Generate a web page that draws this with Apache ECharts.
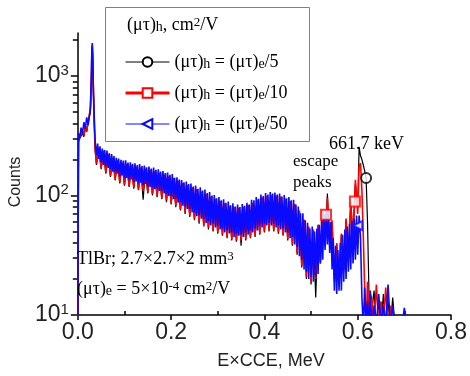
<!DOCTYPE html>
<html><head><meta charset="utf-8">
<script src="https://cdn.jsdelivr.net/npm/echarts@6/dist/echarts.min.js"></script>
<style>html,body{margin:0;padding:0;background:#fff}#c{width:470px;height:376px}</style>
</head><body><div id="c"></div>
<script>
// Energy grid (MeV) for the black and red spectra
const energy = [
  0.000, 0.0015, 0.004, 0.007, 0.010, 0.013, 0.016, 0.019, 0.022, 0.025,
  0.027, 0.029, 0.030, 0.031, 0.032, 0.033, 0.035, 0.037, 0.040,
  0.045, 0.050, 0.055, 0.060, 0.065, 0.070, 0.075, 0.080, 0.085, 0.090,
  0.095, 0.100, 0.105, 0.110, 0.115, 0.120, 0.125, 0.130, 0.135, 0.140,
  0.145, 0.150, 0.155, 0.160, 0.165, 0.170, 0.175, 0.180, 0.185, 0.190,
  0.195, 0.200, 0.205, 0.210, 0.215, 0.220, 0.225, 0.230, 0.235, 0.240,
  0.245, 0.250, 0.255, 0.260, 0.265, 0.270, 0.275, 0.280, 0.285, 0.290,
  0.295, 0.300, 0.305, 0.310, 0.315, 0.320, 0.325, 0.330, 0.335, 0.340,
  0.345, 0.350, 0.355, 0.360, 0.365, 0.370, 0.375, 0.380, 0.385, 0.390,
  0.395, 0.400, 0.405, 0.410, 0.415, 0.420, 0.425, 0.430, 0.435, 0.440,
  0.445, 0.450, 0.455, 0.460, 0.465, 0.470, 0.475, 0.480, 0.485, 0.490,
  0.495, 0.500, 0.505, 0.510, 0.515, 0.520, 0.525, 0.530, 0.535, 0.540,
  0.545, 0.550, 0.555, 0.560, 0.565, 0.570, 0.575, 0.580, 0.585, 0.590,
  0.595, 0.600,
  0.603, 0.606, 0.609, 0.612, 0.615, 0.618, 0.621, 0.624, 0.627,
  0.630, 0.635, 0.640, 0.645, 0.650, 0.655, 0.660, 0.665, 0.670, 0.675,
  0.680, 0.685, 0.690, 0.695, 0.700, 0.705
];
// Finer energy grid (MeV) for the blue spectrum
const energyFine = [
  0.000, 0.0015, 0.004, 0.007, 0.010, 0.013, 0.016, 0.019, 0.022, 0.025,
  0.027, 0.029, 0.030, 0.031, 0.032, 0.033, 0.035, 0.037, 0.040,
  0.0425, 0.0450, 0.0475, 0.0500, 0.0525, 0.0550, 0.0575, 0.0600,
  0.0625, 0.0650, 0.0675, 0.0700, 0.0725, 0.0750, 0.0775, 0.0800,
  0.0825, 0.0850, 0.0875, 0.0900, 0.0925, 0.0950, 0.0975, 0.1000,
  0.1025, 0.1050, 0.1075, 0.1100, 0.1125, 0.1150, 0.1175, 0.1200,
  0.1225, 0.1250, 0.1275, 0.1300, 0.1325, 0.1350, 0.1375, 0.1400,
  0.1425, 0.1450, 0.1475, 0.1500, 0.1525, 0.1550, 0.1575, 0.1600,
  0.1625, 0.1650, 0.1675, 0.1700, 0.1725, 0.1750, 0.1775, 0.1800,
  0.1825, 0.1850, 0.1875, 0.1900, 0.1925, 0.1950, 0.1975, 0.2000,
  0.2025, 0.2050, 0.2075, 0.2100, 0.2125, 0.2150, 0.2175, 0.2200,
  0.2225, 0.2250, 0.2275, 0.2300, 0.2325, 0.2350, 0.2375, 0.2400,
  0.2425, 0.2450, 0.2475, 0.2500, 0.2525, 0.2550, 0.2575, 0.2600,
  0.2625, 0.2650, 0.2675, 0.2700, 0.2725, 0.2750, 0.2775, 0.2800,
  0.2825, 0.2850, 0.2875, 0.2900, 0.2925, 0.2950, 0.2975, 0.3000,
  0.3025, 0.3050, 0.3075, 0.3100, 0.3125, 0.3150, 0.3175, 0.3200,
  0.3225, 0.3250, 0.3275, 0.3300, 0.3325, 0.3350, 0.3375, 0.3400,
  0.3425, 0.3450, 0.3475, 0.3500, 0.3525, 0.3550, 0.3575, 0.3600,
  0.3625, 0.3650, 0.3675, 0.3700, 0.3725, 0.3750, 0.3775, 0.3800,
  0.3825, 0.3850, 0.3875, 0.3900, 0.3925, 0.3950, 0.3975, 0.4000,
  0.4025, 0.4050, 0.4075, 0.4100, 0.4125, 0.4150, 0.4175, 0.4200,
  0.4225, 0.4250, 0.4275, 0.4300, 0.4325, 0.4350, 0.4375, 0.4400,
  0.4425, 0.4450, 0.4475, 0.4500, 0.4525, 0.4550, 0.4575, 0.4600,
  0.4625, 0.4650, 0.4675, 0.4700, 0.4725, 0.4750, 0.4775, 0.4800,
  0.4825, 0.4850, 0.4875, 0.4900, 0.4925, 0.4950, 0.4975, 0.5000,
  0.5025, 0.5050, 0.5075, 0.5100, 0.5125, 0.5150, 0.5175, 0.5200,
  0.5225, 0.5250, 0.5275, 0.5300, 0.5325, 0.5350, 0.5375, 0.5400,
  0.5425, 0.5450, 0.5475, 0.5500, 0.5525, 0.5550, 0.5575, 0.5600,
  0.5625, 0.5650, 0.5675, 0.5700, 0.5725, 0.5750, 0.5775, 0.5800,
  0.5825, 0.5850, 0.5875, 0.5900, 0.5925, 0.5950, 0.5975, 0.6000,
  0.603, 0.606, 0.609, 0.612, 0.615, 0.618, 0.621, 0.624, 0.627,
  0.630, 0.635, 0.640, 0.645, 0.650, 0.655, 0.660, 0.665, 0.670, 0.675,
  0.680, 0.685, 0.690, 0.695, 0.700, 0.705
];
// (mu tau)_h = (mu tau)_e / 5  (black), on energy
const countsBlack = [
  8, 280, 300, 300, 330, 310, 370, 340, 400, 410,
  500, 850, 1500, 1750, 1350, 800, 420, 240, 180,
  248,166,234,152,219,143,206,134,195,126,
  186,121,181,118,177,114,173,111,169,92,
  165,104,162,100,158,97,153,93,148,88,
  143,84,138,80,131,75,125,70,120,66,
  115,62,111,58,106,55,101,52,96,50,
  92,48,88,46,84,44,80,42,78,41,
  77,38,78,42,81,44,85,45,90,47,
  94,49,97,50,99,50,98,48,96,46,
  92,42,88,38,83,32,73,25,62,20,
  54,18,50,14,56,27,72,38,104,36,
  60,19,39,18,47,23,62,31,84,44,
  125,80,
  255,215,200,180,160,140,60,16,8,
  8,16,8,13,8,15,8,13,8,14,
  8,8,8,8,8,8
];
// (mu tau)_h = (mu tau)_e / 10  (red), on energy
const countsRed = [
  8, 290, 310, 300, 345, 320, 380, 345, 420, 420,
  520, 900, 1550, 1800, 1400, 850, 430, 250, 185,
  250,170,236,156,221,146,208,137,197,129,
  188,124,183,120,179,117,175,113,171,110,
  167,106,164,103,160,99,155,95,150,91,
  145,87,140,82,133,77,127,72,122,68,
  117,64,113,60,108,56,103,54,98,51,
  94,49,90,47,86,45,82,43,80,42,
  79,42,80,43,83,45,87,46,92,48,
  96,50,99,51,101,51,100,49,98,47,
  94,43,90,39,85,33,75,26,63,21,
  55,19,52,20,57,28,75,40,95,38,
  62,20,40,19,48,24,64,32,88,45,
  135,70,
  175,187,110,45,16,8,19,9,15,
  14,8,18,8,13,8,17,8,12,8,
  8,8,8,8,8,8
];
// (mu tau)_h = (mu tau)_e / 50  (blue), on energyFine
const countsBlue = [
  8, 330, 300, 370, 330, 410, 360, 450, 390, 470,
  560, 1000, 1650, 1890, 1500, 900, 480, 290, 215,
  272, 202, 258, 190, 247, 180, 240, 176,
  238, 170, 226, 166, 222, 158, 214, 157,
  207, 152, 204, 145, 199, 147, 196, 139,
  197, 140, 189, 134, 190, 136, 184, 130,
  186, 131, 180, 126, 183, 128, 176, 122,
  178, 125, 172, 119, 175, 118, 168, 117,
  171, 113, 164, 114, 166, 109, 159, 109,
  160, 104, 154, 103, 156, 99, 149, 99,
  151, 93, 141, 94, 142, 87, 136, 88,
  135, 82, 129, 81, 131, 77, 125, 77,
  126, 72, 119, 72, 121, 67, 114, 68,
  117, 64, 110, 64, 112, 59, 105, 61,
  107, 56, 100, 58, 101, 54, 95, 56,
  97, 52, 91, 53, 93, 49, 87, 51,
  89, 48, 83, 49, 86, 45, 81, 48,
  84, 46, 80, 47, 85, 45, 82, 49,
  87, 47, 84, 51, 92, 49, 91, 53,
  97, 51, 94, 56, 102, 54, 99, 58,
  105, 56, 102, 59, 107, 56, 104, 58,
  106, 54, 102, 56, 104, 52, 98, 53,
  101, 49, 95, 49, 97, 44, 91, 45,
  92, 39, 84, 37, 81, 31, 71, 29,
  71, 24, 62, 23, 59, 20, 53, 21,
  55, 19, 50, 21, 53, 22, 57, 27,
  62, 29, 70, 35, 75, 39, 70, 33,
  60, 24, 44, 16, 38, 15, 35, 16,
  40, 16, 47, 19, 52, 20, 55, 23,
  58, 24, 61, 27, 64, 29, 68, 32,
  68, 45, 14, 8, 17, 8, 13, 8, 16,
  8, 12, 8, 15, 8, 12, 8, 18, 8, 12,
  8, 8, 8, 8, 11.5, 8
];
// Marker positions [energy, counts]
const markBlack = [[0.618, 140]];
const markRed = [[0.532, 69], [0.594, 89]];
const markBlue = [[0.600, 56]];
// Axis ticks
const xMinorTicks = [0.1, 0.3, 0.5, 0.7];
const yMajorTicks = [10, 100, 1000];
const yMinorTicks = [20,30,40,50,60,70,80,90,200,300,400,500,600,700,800,900,2000];
const seriesNames = ['k5', 'k10', 'k50'];
const legendLabels = {
  k5: '{t|(μτ)}{sub|h}{t| = (μτ)}{sub|e}{t|/5}',
  k10: '{t|(μτ)}{sub|h}{t| = (μτ)}{sub|e}{t|/10}',
  k50: '{t|(μτ)}{sub|h}{t| = (μτ)}{sub|e}{t|/50}'
};

const serif = 'Liberation Serif', sans = 'Liberation Sans';
const rich = {
  t: {fontFamily: serif, fontSize: 18, lineHeight: 18, verticalAlign: 'top', color: '#000'},
  sub: {fontFamily: serif, fontSize: 14, lineHeight: 14, padding: [8,0,0,0], verticalAlign: 'bottom', color: '#000'},
  sup: {fontFamily: serif, fontSize: 13, lineHeight: 13, verticalAlign: 'top', color: '#000'}
};
const pairs = (xs, arr) => xs.map((e, i) => [e, arr[i]]);

const chart = echarts.init(document.getElementById('c'), null, {renderer: 'canvas'});
chart.setOption({
  animation: false,
  backgroundColor: '#fff',
  textStyle: {fontFamily: sans},
  grid: {left: 70, right: 18, top: 33, bottom: 61},
  xAxis: [{
    type: 'value', min: 0, max: 0.8, interval: 0.2,
    name: 'E×CCE, MeV', nameLocation: 'middle', nameGap: 37,
    nameTextStyle: {fontFamily: sans, fontSize: 18, color: '#222', padding: [0,0,0,13]},
    axisLine: {show: true, lineStyle: {color: '#000', width: 1.5}},
    axisTick: {show: true, inside: false, length: 5, lineStyle: {color: '#000', width: 1.5}},
    axisLabel: {fontFamily: sans, fontSize: 23, color: '#222', margin: 6, formatter: v => v.toFixed(1)},
    splitLine: {show: false}
  }, {
    type: 'value', min: 0, max: 0.8, position: 'bottom',
    axisLine: {show: false},
    axisTick: {show: true, inside: true, length: 4, customValues: xMinorTicks, lineStyle: {color: '#000', width: 1.5}},
    axisLabel: {show: false},
    splitLine: {show: false}
  }],
  yAxis: [{
    type: 'log', logBase: 10, min: 10, max: 2290,
    name: 'Counts', nameLocation: 'middle', nameGap: 45,
    nameTextStyle: {fontFamily: sans, fontSize: 16, color: '#222', padding: [0,16,0,0]},
    axisLine: {show: true, lineStyle: {color: '#000', width: 1.5}},
    axisTick: {show: true, inside: false, length: 7, customValues: yMajorTicks, lineStyle: {color: '#000', width: 1.5}},
    axisLabel: {
      customValues: yMajorTicks, margin: 9,
      formatter: v => '{b|10}{s|' + Math.round(Math.log10(v)) + '}',
      rich: {
        b: {fontFamily: sans, fontSize: 23, lineHeight: 26, color: '#222'},
        s: {fontFamily: sans, fontSize: 15, lineHeight: 15, verticalAlign: 'top', color: '#222'}
      }
    },
    splitLine: {show: false}
  }, {
    type: 'log', logBase: 10, min: 10, max: 2290, position: 'left',
    axisLine: {show: false},
    axisTick: {show: true, inside: false, length: 5, customValues: yMinorTicks, lineStyle: {color: '#000', width: 1.5}},
    axisLabel: {show: false},
    splitLine: {show: false}
  }],
  legend: {
    data: seriesNames.map((n, i) => ({name: n, lineStyle: {width: i === 1 ? 3 : 1}})),
    orient: 'vertical', left: 124, top: 49, padding: 0,
    itemWidth: 44, itemHeight: 12, itemGap: 9,
    symbolRotate: 'inherit',
    formatter: n => legendLabels[n],
    textStyle: {rich: rich, fontFamily: serif, fontSize: 18},
    selectedMode: false
  },
  series: [
    {name: seriesNames[0], type: 'line', data: pairs(energy, countsBlack), showSymbol: false, symbol: 'emptyCircle',
      color: '#000', lineStyle: {width: 1.2, color: '#000'}, z: 2},
    {name: seriesNames[1], type: 'line', data: pairs(energy, countsRed), showSymbol: false, symbol: 'emptyRect',
      color: '#ff0000', lineStyle: {width: 1.6, color: '#ff0000'}, z: 3},
    {name: seriesNames[2], type: 'line', data: pairs(energyFine, countsBlue), showSymbol: false, symbol: 'emptyTriangle', symbolRotate: 90,
      color: '#0a0aff', lineStyle: {width: 1.6, color: '#0a0aff'}, z: 4},
    {name: 'mBlack', type: 'scatter', data: markBlack, symbol: 'emptyCircle', symbolSize: 10,
      itemStyle: {color: '#000', borderWidth: 2}, z: 6},
    {name: 'mRed', type: 'scatter', data: markRed, symbol: 'emptyRect', symbolSize: 10,
      itemStyle: {color: '#ff0000', borderWidth: 1.5}, z: 6},
    {name: 'mBlue', type: 'scatter', data: markBlue, symbol: 'emptyTriangle', symbolSize: 9, symbolRotate: 90,
      itemStyle: {color: '#0a0aff', borderWidth: 1.5}, z: 6}
  ],
  graphic: [
    {type: 'rect', shape: {x: 105.5, y: 7.5, width: 204, height: 134}, style: {fill: 'none', stroke: '#808080', lineWidth: 1}, z: 10},
    {type: 'text', x: 127, y: 25, style: {text: '{t|(μτ)}{sub|h}{t|, cm}{sup|2}{t|/V}', rich: rich, verticalAlign: 'middle'}, z: 10},
    {type: 'text', x: 329, y: 144, style: {text: '661.7 keV', font: '18px "Liberation Serif"', fill: '#000', verticalAlign: 'middle'}, z: 10},
    {type: 'text', x: 293, y: 162, style: {text: 'escape', font: '17px "Liberation Serif"', fill: '#000', verticalAlign: 'middle'}, z: 10},
    {type: 'text', x: 293, y: 183, style: {text: 'peaks', font: '17px "Liberation Serif"', fill: '#000', verticalAlign: 'middle'}, z: 10},
    {type: 'text', x: 77, y: 259, style: {text: '{t|TlBr; 2.7×2.7×2 mm}{sup|3}', rich: rich, verticalAlign: 'middle'}, z: 10},
    {type: 'text', x: 77, y: 289, style: {text: '{t|(μτ)}{sub|e}{t| = 5×10}{sup|-4}{t| cm}{sup|2}{t|/V}', rich: rich, verticalAlign: 'middle'}, z: 10}
  ]
});
</script>
</body></html>
